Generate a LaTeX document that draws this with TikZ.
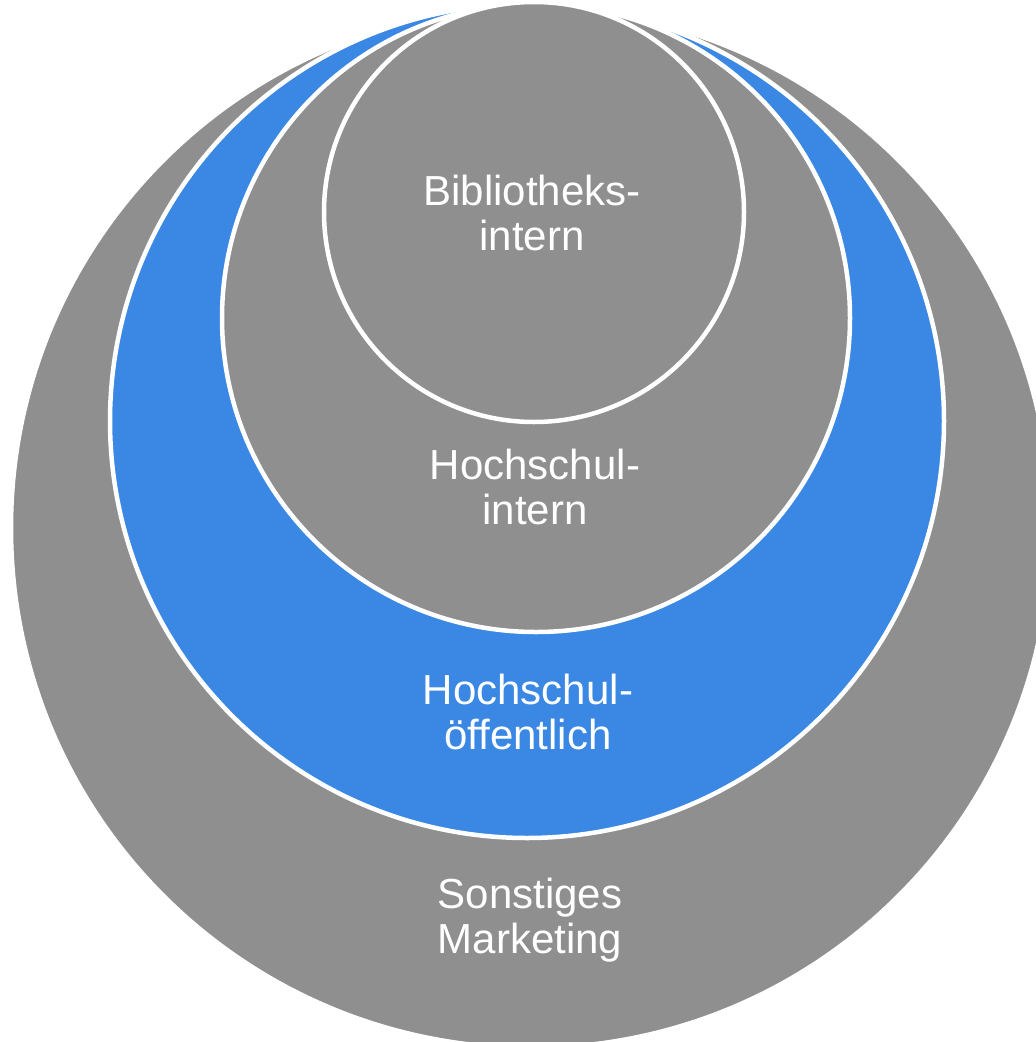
\documentclass[tikz,border=0pt]{standalone}
\usepackage{fontspec}
\setmainfont{Liberation Sans}[Ligatures=NoCommon]
\definecolor{ringgray}{RGB}{143,143,143}
\definecolor{ringblue}{RGB}{58,136,228}
\begin{document}
\begin{tikzpicture}[x=1pt,y=-1pt,
  ring/.style={circle, draw=white, line width=4.5pt, inner sep=0pt, outer sep=0pt},
  lbl/.style={text=white, font=\fontsize{42}{45}\selectfont, align=center, inner sep=0pt}]
\useasboundingbox (0,0) rectangle (1036,1042);
\clip (0,0) rectangle (1036,1042);
\node[ring, fill=ringgray, minimum size=1040pt] (outer) at (531,528) {};
\node[ring, fill=ringblue, minimum size=834pt] (public) at (527,421) {};
\node[ring, fill=ringgray, minimum size=628pt] (uni) at (536,318) {};
\node[ring, fill=ringgray, minimum size=420pt] (lib) at (534,212) {};
\node[lbl] (tlib) at (532,213) {Bibliotheks-\\intern};
\node[lbl] (tuni) at (535,487) {Hochschul-\\intern};
\node[lbl] (tpub) at (528,712) {Hochschul-\\öffentlich};
\node[lbl] (tout) at (530,920) {Sonstiges\\Marketing};
\end{tikzpicture}
\end{document}
